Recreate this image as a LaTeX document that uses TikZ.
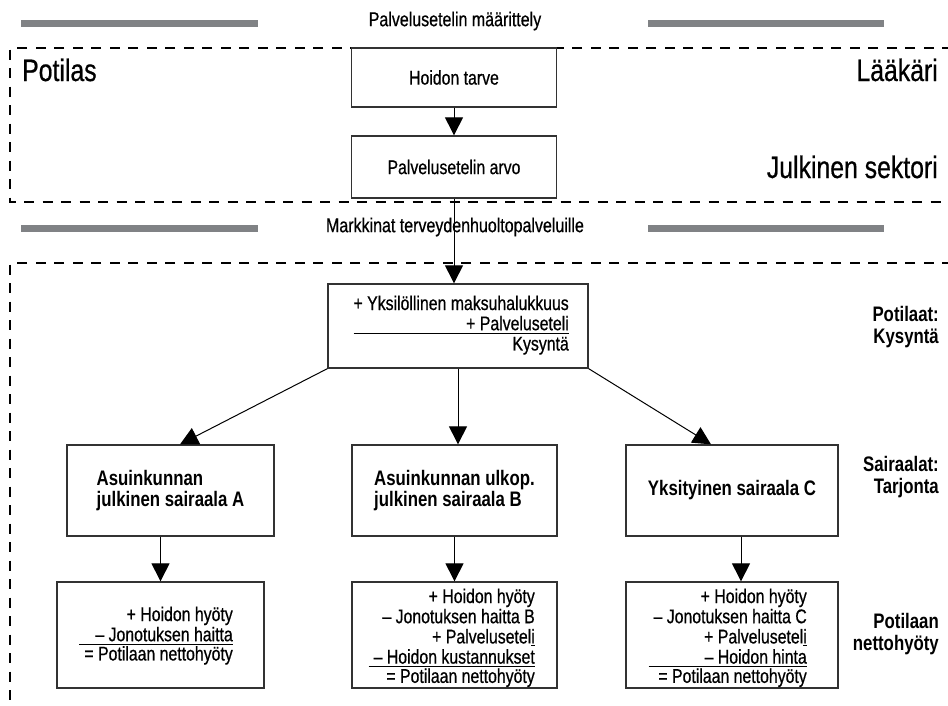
\documentclass[tikz,border=0pt]{standalone}
\usepackage{fontspec}
\setmainfont{Liberation Sans}[FakeStretch=0.8, UprightFeatures={FakeBold=0.6}]
\usetikzlibrary{arrows.meta}
\definecolor{barg}{RGB}{128,130,133}
\definecolor{edge}{RGB}{50,50,50}
\newcommand{\bodyf}{\fontsize{19.8}{19.5}\selectfont}
\newcommand{\bigf}{\fontsize{31}{32}\selectfont}
\newcommand{\hospf}{\bfseries\fontsize{21}{21.5}\selectfont}
\newcommand{\sumtab}[1]{\begin{tabular}[t]{@{\hspace{5pt}}r@{}}#1\end{tabular}}
\begin{document}
\begin{tikzpicture}[x=1pt,y=-1pt,
  box/.style={draw=edge, line width=1.3pt, fill=white, inner sep=0pt, font=\bodyf},
  hbox/.style={box, font=\hospf, align=left},
  arr/.style={line width=1pt, -{Triangle[length=18pt,width=18pt]}},
  bar/.style={fill=barg, draw=none},
  dashline/.style={line width=1.6pt, dash pattern=on 10pt off 8.5pt},
  lbl/.style={inner sep=0pt, font=\bigf},
  side/.style={inner sep=0pt, font=\hospf, align=right, anchor=east},
  head/.style={inner sep=0pt, font=\fontsize{20}{20}\selectfont}]
\useasboundingbox (0,0) rectangle (948,705);
\fill[white] (0,0) rectangle (948,705);
% gray bars
\path[bar] (21,19.5) rectangle (258,26.5);
\path[bar] (648,19.5) rectangle (884,26.5);
\path[bar] (21,224.5) rectangle (258,231.5);
\path[bar] (648,224.5) rectangle (884,231.5);
\node[head] (t1) at (455,21) {Palvelusetelin määrittely};
\node[head] (t2) at (455,227) {Markkinat terveydenhuoltopalveluille};
% dashed frames
\draw[dashline] (952,48) -- (10,48) -- (10,202) -- (952,202);
\draw[dashline] (952,263) -- (10,263) -- (10,712);
% top labels
\node[lbl, anchor=base west] (pot) at (22,81) {Potilas};
\node[lbl, anchor=base east] (laak) at (938,81) {Lääkäri};
\node[lbl, anchor=base east] (jul) at (938,178) {Julkinen sektori};
% top boxes
\node[box, minimum width=205pt, minimum height=59pt] (need) at (454,77.5) {Hoidon tarve};
\node[box, minimum width=205pt, minimum height=62pt] (val) at (454,167) {Palvelusetelin arvo};
% demand box
\node[box, minimum width=260pt, minimum height=84pt] (dem) at (458,326) {};
\node[inner sep=0pt, anchor=base east, font=\bodyf] (demt) at (569,310)
  {\begin{tabular}[t]{@{}r@{}}+ Yksilöllinen maksuhalukkuus\\+ Palveluseteli\\[-3pt]\hline\rule{0pt}{17pt}Kysyntä\end{tabular}};
% hospitals
\node[hbox, minimum width=207pt, minimum height=91pt] (hA) at (170.5,490.5) {Asuinkunnan\\julkinen sairaala A};
\node[hbox, minimum width=205pt, minimum height=91pt] (hB) at (454.5,490.5) {Asuinkunnan ulkop.\\julkinen sairaala B};
\node[hbox, minimum width=212pt, minimum height=91pt] (hC) at (732,490.5) {Yksityinen sairaala C};
% net benefit boxes
\node[box, minimum width=207pt, minimum height=106pt] (sA) at (160.5,635) {};
\node[box, minimum width=205pt, minimum height=106pt] (sB) at (454.5,635) {};
\node[box, minimum width=212pt, minimum height=106pt] (sC) at (732,635) {};
\node[inner sep=0pt, anchor=base east, font=\bodyf] (sAt) at (233,621)
  {\sumtab{+ Hoidon hyöty\\– Jonotuksen haitta\\[-3pt]\hline\rule{0pt}{16pt}= Potilaan nettohyöty}};
\node[inner sep=0pt, anchor=base east, font=\bodyf] (sBt) at (535,603)
  {\sumtab{+ Hoidon hyöty\\– Jonotuksen haitta B\\+ Palvelusetel\underline{i}\\– Hoidon kustannukset\\[-3pt]\hline\rule{0pt}{16pt}= Potilaan nettohyöty}};
\node[inner sep=0pt, anchor=base east, font=\bodyf] (sCt) at (807,603)
  {\sumtab{+ Hoidon hyöty\\– Jonotuksen haitta C\\+ Palvelusetel\underline{i}\\– Hoidon hinta\\[-3pt]\hline\rule{0pt}{16pt}= Potilaan nettohyöty}};
% side labels
\node[side] (s1) at (939,327) {Potilaat:\\Kysyntä};
\node[side] (s2) at (939,477) {Sairaalat:\\Tarjonta};
\node[side] (s3) at (939,634) {Potilaan\\nettohyöty};
% connectors
\draw[arr] (need) -- (val);
\draw[arr] (val.south) -- (val.south |- dem.north);
\draw[arr] (dem.south west) -- ([xshift=9.5pt]hA.north);
\draw[arr] (dem.south) -- (dem.south |- hB.north);
\draw[arr] (dem.south east) -- ([xshift=-21pt]hC.north);
\draw[arr] (hA.south -| sA.north) -- (sA.north);
\draw[arr] (hB) -- (sB);
\draw[arr] ([xshift=9pt]hC.south) -- ([xshift=9pt]sC.north);
\end{tikzpicture}
\end{document}
